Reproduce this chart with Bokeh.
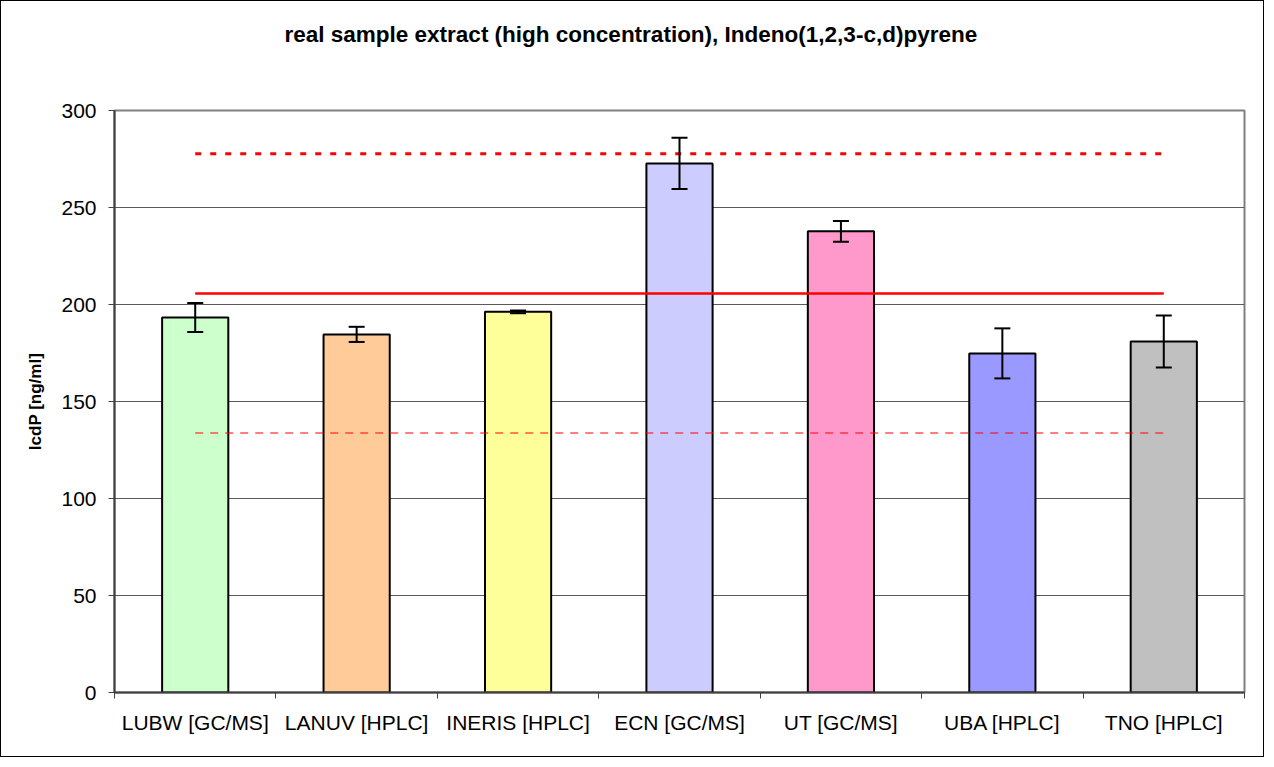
from bokeh.plotting import figure
from bokeh.models import ColumnDataSource, FixedTicker, Whisker, TeeHead, Title
from bokeh.embed import file_html
from bokeh.resources import INLINE

# ---- data ----
categories = ["LUBW [GC/MS]", "LANUV [HPLC]", "INERIS [HPLC]", "ECN [GC/MS]",
              "UT [GC/MS]", "UBA [HPLC]", "TNO [HPLC]"]
values = [193.3, 184.6, 196.2, 272.7, 237.7, 174.8, 180.9]
errors = [7.5, 3.9, 0.7, 13.2, 5.4, 12.9, 13.4]
bar_colors = ["#CCFFCC", "#FFCC99", "#FFFF99", "#CCCCFF", "#FF99CC", "#9999FF", "#C0C0C0"]
mean_value = 205.7
upper_limit = 277.7
lower_limit = 133.7
y_ticks = [0, 50, 100, 150, 200, 250, 300]
title_text = "real sample extract (high concentration), Indeno(1,2,3-c,d)pyrene"
y_label = "IcdP [ng/ml]"

FONT = "Liberation Sans"

n = len(categories)
xs = [i + 0.5 for i in range(n)]
src = ColumnDataSource(dict(
    x=xs,
    top=values,
    color=bar_colors,
    upper=[v + e for v, e in zip(values, errors)],
    lower=[v - e for v, e in zip(values, errors)],
))

p = figure(width=1264, height=757, x_range=(0, n), y_range=(0, 300), title=None,
           output_backend="svg", toolbar_location=None, tools="",
           min_border_left=113, min_border_right=21,
           min_border_top=109, min_border_bottom=66)
p.styles = {"border": "1px solid black"}
p.background_fill_color = "white"
p.border_fill_color = "white"
p.outline_line_color = "#808080"
p.outline_line_width = 2

# blank spacer between frame and title (keeps the title high up, as in the original)
p.add_layout(Title(text=" ", text_font_size="1px", standoff=56), "above")

# title (left aligned with an offset so that it sits centred on the whole chart)
p.add_layout(Title(text=title_text, align="left", offset=170, standoff=10,
                   text_font=FONT, text_font_style="bold", text_font_size="22.5px",
                   text_color="black"), "above")

# bars
p.vbar(x="x", top="top", width=0.41, bottom=0, source=src,
       fill_color="color", line_color="black", line_width=2)

# reference lines
p.line(x=[xs[0], xs[-1]], y=[mean_value, mean_value], line_color="red", line_width=2.5)
p.line(x=[xs[0], xs[-1]], y=[upper_limit, upper_limit], line_color="red", line_width=3,
       line_dash="6 9")
p.line(x=[xs[0], xs[-1]], y=[lower_limit, lower_limit], line_color="red", line_alpha=0.5,
       line_width=2, line_dash="8 7")

# error bars
wh = Whisker(source=src, base="x", upper="upper", lower="lower",
             line_color="black", line_width=2, level="overlay",
             upper_head=TeeHead(size=16, line_width=2, line_color="black"),
             lower_head=TeeHead(size=16, line_width=2, line_color="black"))
p.add_layout(wh)

# grid
p.xgrid.grid_line_color = None
p.ygrid.grid_line_color = "#5a5a5a"
p.ygrid.grid_line_width = 1
p.ygrid.ticker = FixedTicker(ticks=y_ticks)

# y axis
yax = p.left[0]
yax.ticker = FixedTicker(ticks=y_ticks)
yax.axis_line_color = "#404040"
yax.axis_line_width = 2
yax.major_tick_line_color = "#404040"
yax.major_tick_in = 0
yax.major_tick_out = 6
yax.minor_tick_line_color = None
yax.major_label_text_font = FONT
yax.major_label_text_font_size = "21px"
yax.major_label_text_color = "black"
yax.major_label_standoff = 12
yax.axis_label = y_label
yax.axis_label_text_font = FONT
yax.axis_label_text_font_style = "bold"
yax.axis_label_text_font_size = "17px"
yax.axis_label_text_color = "black"
yax.axis_label_standoff = 13

# x axis (labels at bar centres, tick marks at category boundaries)
xax = p.below[0]
xax.ticker = FixedTicker(ticks=xs, minor_ticks=list(range(n + 1)))
xax.major_label_overrides = {x: c for x, c in zip(xs, categories)}
xax.axis_line_color = "#404040"
xax.axis_line_width = 2
xax.major_tick_line_color = None
xax.minor_tick_line_color = "#404040"
xax.minor_tick_in = 0
xax.minor_tick_out = 6
xax.major_label_text_font = FONT
xax.major_label_text_font_size = "21px"
xax.major_label_text_color = "black"
xax.major_label_standoff = 12

open("out.html", "w").write(file_html(p, INLINE))
